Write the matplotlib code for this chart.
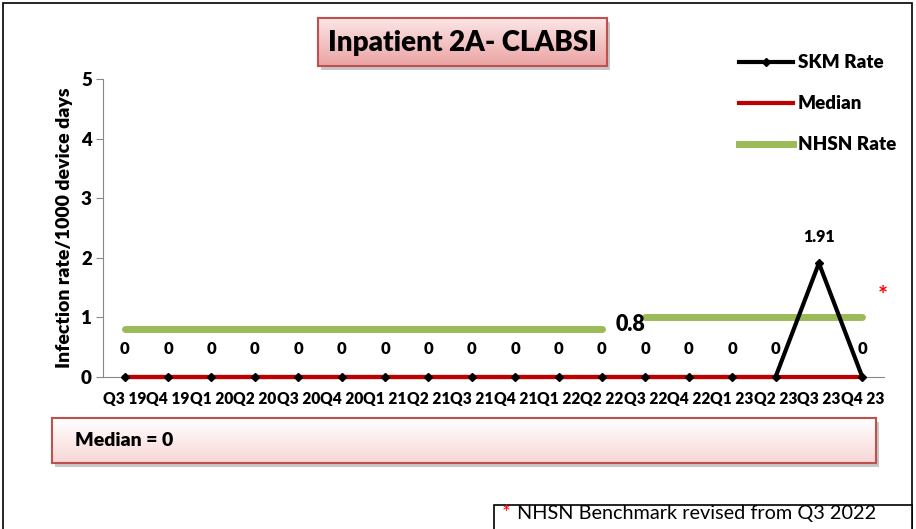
import numpy as np
import matplotlib
matplotlib.use("Agg")
import matplotlib.pyplot as plt
from matplotlib.lines import Line2D
from matplotlib.patches import Rectangle

plt.rcParams["font.family"] = ["Lato", "DejaVu Sans"]
BOLD = 800

# ── data ─────────────────────────────────────────────
quarters = ["Q3 19", "Q4 19", "Q1 20", "Q2 20", "Q3 20", "Q4 20",
            "Q1 21", "Q2 21", "Q3 21", "Q4 21", "Q1 22", "Q2 22",
            "Q3 22", "Q4 22", "Q1 23", "Q2 23", "Q3 23", "Q4 23"]
skm_rate = [0, 0, 0, 0, 0, 0, 0, 0, 0, 0, 0, 0, 0, 0, 0, 0, 1.91, 0]
median = [0] * 18
nhsn_old = [0.8] * 12 + [np.nan] * 6
nhsn_new = [np.nan] * 12 + [1.0] * 6

W, H = 916, 529
fig = plt.figure(figsize=(W / 100, H / 100), dpi=100)


def fx(px):
    return px / W


def fy(py):
    return 1 - py / H


def gradient_box(x0, y0, x1, y1, c_top, c_bot, edge, lw=1.5):
    """pink gradient panel with a soft grey shadow, pixel coords"""
    sh = Rectangle((fx(x0 + 3), fy(y1 + 4)), fx(x1 - x0), (y1 - y0) / H,
                   transform=fig.transFigure, facecolor="#9a9a9a",
                   edgecolor="none", alpha=0.55, zorder=1)
    fig.patches.append(sh)
    bax = fig.add_axes([fx(x0), fy(y1), fx(x1 - x0), (y1 - y0) / H])
    bax.set_zorder(2)
    t = np.linspace(0, 1, 64)[:, None]
    c0 = np.array(matplotlib.colors.to_rgb(c_top))
    c1 = np.array(matplotlib.colors.to_rgb(c_bot))
    img = c0[None, None, :] * (1 - t[..., None]) + c1[None, None, :] * t[..., None]
    bax.imshow(np.repeat(img, 2, axis=1), aspect="auto",
               extent=[0, 1, 0, 1], interpolation="bilinear")
    bax.set_xlim(0, 1)
    bax.set_ylim(0, 1)
    bax.set_xticks([])
    bax.set_yticks([])
    for s in bax.spines.values():
        s.set_color(edge)
        s.set_linewidth(lw)
    return bax


# outer frame (bottom edge runs off the page)
fig.patches.append(Rectangle((fx(3), fy(560)), fx(909), 557 / H,
                             transform=fig.transFigure, fill=False,
                             edgecolor="black", lw=1.2, zorder=0))

# ── main plot ───────────────────────────────────────
ax = fig.add_axes([fx(103), fy(377), fx(884 - 103), (377 - 79) / H])
x = np.arange(len(quarters))

ax.plot(x, nhsn_old, color="#9BBB59", lw=5, solid_capstyle="round", zorder=2)
ax.plot(x, nhsn_new, color="#9BBB59", lw=5, solid_capstyle="round", zorder=2)
ax.plot(x, skm_rate, color="black", lw=3, zorder=3, clip_on=False)
ax.plot(x, median, color="#C00000", lw=3, zorder=4, clip_on=False)
ax.plot(x, skm_rate, ls="none", marker="D", ms=4.5, color="black",
        zorder=5, clip_on=False)

for xi, v in zip(x, skm_rate):
    lab = "0" if v == 0 else f"{v:.2f}"
    ax.annotate(lab, (xi, v), xytext=(0, 20 if v == 0 else 19),
                textcoords="offset points", ha="center", va="center",
                fontsize=12 if v == 0 else 11.5, fontweight=BOLD)

ax.annotate(f"{nhsn_old[11]:.1f}", (11, nhsn_old[11]), xytext=(9.5, 3.5),
            textcoords="offset points", ha="left", va="center",
            fontsize=15.5, fontweight=BOLD)
ax.annotate("*", (17, nhsn_new[17]), xytext=(14.5, 15),
            textcoords="offset points", ha="center", va="center",
            fontsize=17, color="red", fontweight="bold")

ax.set_xlim(-0.5, 17.5)
ax.set_ylim(0, 5)
ax.set_xticks(x)
ax.set_xticklabels(quarters, fontsize=11.2, fontweight=BOLD)
ax.set_yticks(range(6))
ax.set_yticklabels([str(i) for i in range(6)], fontsize=13.5, fontweight=BOLD)
ax.tick_params(axis="x", length=0, pad=10)
ax.tick_params(axis="y", length=5, color="#888888", pad=3)
ax.spines["top"].set_visible(False)
ax.spines["right"].set_visible(False)
ax.spines["left"].set_color("#888888")
ax.spines["bottom"].set_color("#888888")
ax.set_ylabel("Infection rate/1000 device days", fontsize=14,
              fontweight=BOLD, labelpad=6)
ax.patch.set_visible(False)

# ── legend ──────────────────────────────────────────
handles = [
    Line2D([], [], color="black", lw=3, marker="D", ms=4.5),
    Line2D([], [], color="#C00000", lw=3),
    Line2D([], [], color="#9BBB59", lw=5),
]
fig.legend(handles, ["SKM Rate", "Median", "NHSN Rate"], loc="upper left",
           bbox_to_anchor=(fx(730), fy(45)), frameon=False,
           prop={"weight": BOLD, "size": 13.5}, handlelength=2.85,
           handletextpad=0.28, labelspacing=1.28, borderpad=0)

# ── title panel ─────────────────────────────────────
tb = gradient_box(318, 18, 607, 66, "#fbe6e6", "#eba3a3", "#c0504d")
tb.text(0.5, 0.47, "Inpatient 2A- CLABSI", ha="center", va="center",
        fontsize=20, fontweight=BOLD, transform=tb.transAxes)

# ── median panel ────────────────────────────────────
mb = gradient_box(52, 418, 876, 463, "#ffffff", "#f8d6d6", "#c0504d")
mb.text(23 / 824, 0.5, "Median = 0", ha="left", va="center",
        fontsize=14, fontweight=BOLD, transform=mb.transAxes)

# ── footnote box ────────────────────────────────────
fig.patches.append(Rectangle((fx(494), fy(560)), fx(912 - 494), 55 / H,
                             transform=fig.transFigure, facecolor="white",
                             edgecolor="black", lw=1.2, zorder=3))
fig.text(fx(502), fy(514), "*", color="red", fontsize=15, ha="left",
         va="center", zorder=4)
fig.text(fx(517), fy(514), "NHSN Benchmark revised from Q3 2022",
         fontsize=14.3, ha="left", va="center", zorder=4)

fig.savefig("out.png", dpi=100)
